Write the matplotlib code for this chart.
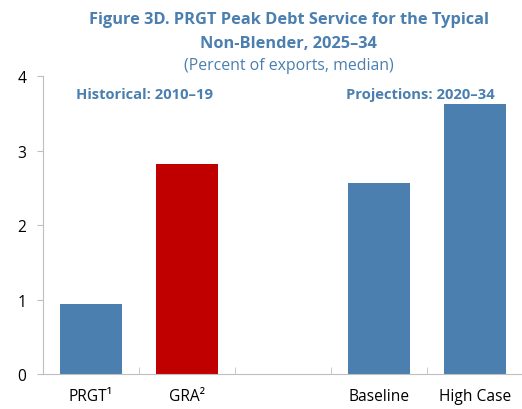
import numpy as np
import matplotlib.pyplot as plt

plt.rcParams['font.family'] = ['Open Sans', 'DejaVu Sans']

categories = ['PRGT¹', 'GRA²', '', 'Baseline', 'High Case']
values = [0.94, 2.82, np.nan, 2.56, 3.62]
colors = ['#4A7FAF', '#C00000', '#4A7FAF', '#4A7FAF', '#4A7FAF']
blue_text = '#4A7FAF'

fig = plt.figure(figsize=(5.22, 4.1), dpi=100)
ax = fig.add_axes([0.082, 0.085, 0.92, 0.727])

x = np.arange(len(categories))
ax.bar(x, values, width=0.65, color=colors)

ax.set_xlim(-0.5, len(categories) - 0.5)
ax.set_ylim(0, 4)
ax.set_yticks([0, 1, 2, 3, 4])
ax.set_xticks(x)
ax.set_xticklabels(categories)
ax.set_xticks(np.arange(0.5, len(categories) - 0.5, 1), minor=True)
ax.tick_params(axis='x', which='major', length=0, pad=10, labelsize=11.2)
ax.tick_params(axis='x', which='minor', length=5, direction='in', color='#BFBFBF')
ax.tick_params(axis='y', length=4, color='#BFBFBF', labelsize=11.2, pad=8)

for s in ['top', 'right']:
    ax.spines[s].set_visible(False)
for s in ['left', 'bottom']:
    ax.spines[s].set_color('#BFBFBF')

ax.text(0.56, 3.76, 'Historical: 2010–19', ha='center', va='center',
        color=blue_text, fontweight='bold', fontsize=10.6)
ax.text(3.43, 3.76, 'Projections: 2020–34', ha='center', va='center',
        color=blue_text, fontweight='bold', fontsize=10.6)

fig.text(0.553, 0.95, 'Figure 3D. PRGT Peak Debt Service for the Typical',
         ha='center', va='center', color=blue_text, fontweight='bold', fontsize=11.8)
fig.text(0.553, 0.893, 'Non-Blender, 2025–34',
         ha='center', va='center', color=blue_text, fontweight='bold', fontsize=11.8)
fig.text(0.553, 0.84, '(Percent of exports, median)',
         ha='center', va='center', color=blue_text, fontsize=11.4)

plt.savefig('out.png', dpi=100)
